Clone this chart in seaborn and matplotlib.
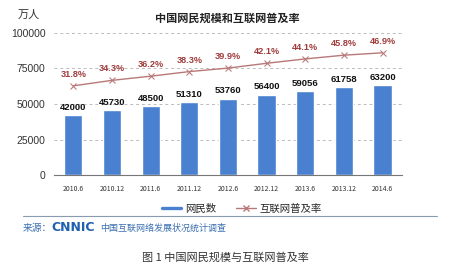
import matplotlib
matplotlib.use("Agg")
import matplotlib.pyplot as plt
import seaborn as sns
import pandas as pd
from matplotlib.lines import Line2D

periods = ["2010.6", "2010.12", "2011.6", "2011.12", "2012.6", "2012.12", "2013.6", "2013.12", "2014.6"]
users = [42000, 45730, 48500, 51310, 53760, 56400, 59056, 61758, 63200]
rates = [31.8, 34.3, 36.2, 38.3, 39.9, 42.1, 44.1, 45.8, 46.9]
y_ticks = [0, 25000, 50000, 75000, 100000]

sns.set_theme(style="white")
plt.rcParams['font.family'] = ['Noto Sans CJK SC', 'DejaVu Sans']

df = pd.DataFrame({"period": periods, "users": users, "rate": rates})

fig = plt.figure(figsize=(4.5, 2.74), dpi=100)
ax = fig.add_axes([0.12, 0.361, 0.773, 0.519])

bar_color = "#4a80d0"
line_color = "#b87878"
pct_color = "#a03c3c"

sns.barplot(data=df, x="period", y="users", color=bar_color, width=0.47,
            saturation=1, ax=ax)
ax.set_ylim(0, 100000)
ax.set_xlim(-0.5, len(periods) - 0.5)
ax.set_yticks(y_ticks)
ax.set_yticklabels([str(v) for v in y_ticks], fontsize=7.5, color="#333333",
                   family="Liberation Sans")
ax.yaxis.grid(True, linestyle=(0, (3, 3)), color="#bbbbbb", linewidth=0.7)
ax.set_axisbelow(True)
ax.set_xlabel("")
ax.set_ylabel("")
ax.tick_params(axis="x", labelsize=5, length=0, pad=7, colors="#333333")
ax.tick_params(axis="y", length=0, pad=6)
for s in ["top", "right", "left"]:
    ax.spines[s].set_visible(False)
ax.spines["bottom"].set_color("#777777")
ax.spines["bottom"].set_linewidth(0.8)
ax.set_xticks([i + 0.5 for i in range(-1, len(periods))], minor=True)
ax.tick_params(axis="x", which="minor", length=3, direction="out", color="#777777", width=0.6)

for i, v in enumerate(users):
    ax.text(i, v + 2500, str(v), ha="center", va="bottom", fontsize=6.8,
            fontweight="bold", color="#111111", family="Liberation Sans")

ax2 = ax.twinx()
sns.lineplot(x=list(range(len(periods))), y=rates, ax=ax2, color=line_color,
             marker="x", markersize=5, markeredgecolor=line_color, linewidth=1.0)
ax2.set_ylim(-9, 56)
ax2.set_yticks([])
ax2.set_ylabel("")
for s in ["top", "right", "left", "bottom"]:
    ax2.spines[s].set_visible(False)
for i, r in enumerate(rates):
    ax2.text(i, r + 3.2, f"{r}%", ha="center", va="bottom", fontsize=6.6,
             fontweight="bold", color=pct_color, family="Liberation Sans")

fig.text(0.505, 0.935, "中国网民规模和互联网普及率", ha="center", va="center",
         fontsize=8, fontweight="bold", color="#222222")
fig.text(0.04, 0.945, "万人", ha="left", va="center", fontsize=8, color="#333333")

leg_handles = [Line2D([0], [0], color=bar_color, linewidth=2.4),
               Line2D([0], [0], color=line_color, linewidth=1, marker="x",
                      markersize=5, markeredgecolor=line_color)]
fig.legend(leg_handles, ["网民数", "互联网普及率"], loc="center",
           bbox_to_anchor=(0.537, 0.237), ncol=2, frameon=False, fontsize=7.5,
           handlelength=1.9, columnspacing=1.9, handletextpad=0.35)

fig.add_artist(Line2D([0.05, 0.97], [0.212, 0.212], color="#8a9ab0", linewidth=0.8))

fig.text(0.05, 0.168, "来源：", ha="left", va="center", fontsize=7, color="#3a6fb0")
fig.text(0.115, 0.168, "CNNIC", ha="left", va="center", fontsize=9, fontweight="heavy",
         color="#2060b0", family="DejaVu Sans")
fig.text(0.222, 0.168, "中国互联网络发展状况统计调查", ha="left", va="center",
         fontsize=6.5, color="#3a6fb0")

fig.text(0.5, 0.062, "图 1 中国网民规模与互联网普及率", ha="center", va="center",
         fontsize=8, color="#333333")

fig.savefig("out.png", dpi=100)
